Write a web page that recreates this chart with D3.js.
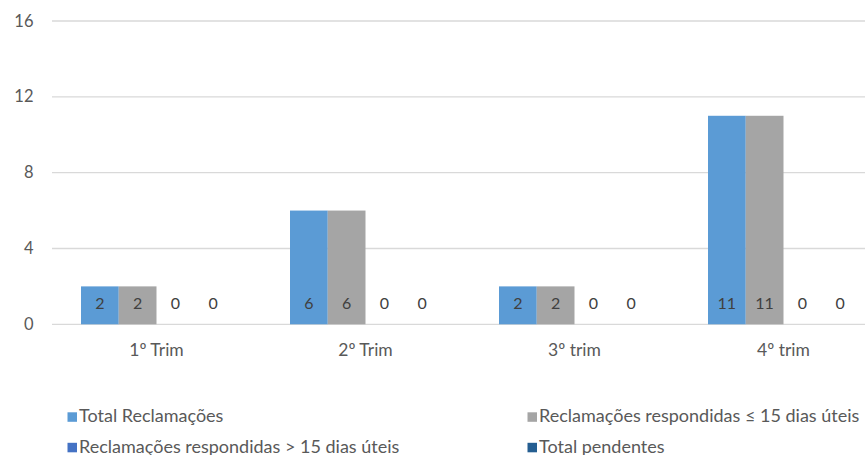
<!DOCTYPE html>
<html><head><meta charset="utf-8">
<script src="https://cdn.jsdelivr.net/npm/d3@7"></script>
<style>body{margin:0;background:#fff}svg{display:block;font-family:Lato,"Open Sans",sans-serif}</style>
</head><body>
<svg id="c" width="865" height="455"></svg>
<script>
const categories = ["1º Trim","2º Trim","3º trim","4º trim"];
const seriesNames = ["Total Reclamações","Reclamações respondidas ≤ 15 dias úteis","Reclamações respondidas > 15 dias úteis","Total pendentes"];
const totalReclamacoes = [2,6,2,11];
const respondidasAte15 = [2,6,2,11];
const respondidasMais15 = [0,0,0,0];
const totalPendentes = [0,0,0,0];
const yTicks = [0,4,8,12,16];
const colors = ["#5B9BD5","#A5A5A5","#4472C4","#255E91"];

const series = [totalReclamacoes, respondidasAte15, respondidasMais15, totalPendentes];
const svg = d3.select("#c");
const x0 = d3.scaleBand().domain(categories).range([52, 888]).paddingInner(0).paddingOuter(0);
const y = d3.scaleLinear().domain([0,16]).range([324.3, 21]);
const inner = 0.7225;
const x1 = d3.scaleBand().domain(d3.range(4)).range([0, x0.bandwidth()*inner]);
const off = x0.bandwidth()*(1-inner)/2;

// gridlines
svg.append("g").selectAll("line").data(yTicks).join("line")
  .attr("x1",52).attr("x2",865).attr("y1",d=>y(d)).attr("y2",d=>y(d))
  .attr("stroke","#D9D9D9").attr("stroke-width",1.3);
svg.append("g").selectAll("text").data(yTicks).join("text")
  .attr("x",33.5).attr("y",d=>y(d)+5.5).attr("text-anchor","end")
  .attr("font-size",16.5).attr("fill","#595959").text(d=>d);

const g = svg.append("g");
categories.forEach((c,i)=>{
  series.forEach((s,j)=>{
    const xb = x0(c)+off+x1(j);
    if (s[i]>0) g.append("rect").attr("x",xb).attr("width",x1.bandwidth())
      .attr("y",y(s[i])).attr("height",y(0)-y(s[i])).attr("fill",colors[j]);
    g.append("text").attr("x",xb+x1.bandwidth()/2).attr("y",309)
      .attr("text-anchor","middle").attr("font-size",16).attr("fill","#404040").text(s[i]);
  });
  svg.append("text").attr("x",x0(c)+x0.bandwidth()/2).attr("y",356)
    .attr("text-anchor","middle").attr("font-size",17.5).attr("fill","#595959").text(c);
});

const legendPos = [[67.5,422],[527.5,422],[67.5,452.5],[527.5,452.5]];
seriesNames.forEach((n,j)=>{
  const [lx,ly] = legendPos[j];
  svg.append("rect").attr("x",lx).attr("y",ly-9.7).attr("width",9.5).attr("height",9.5).attr("fill",colors[j]);
  svg.append("text").attr("x",lx+11.5).attr("y",ly).attr("font-size",18).attr("fill","#595959").text(n);
});
</script>
</body></html>
